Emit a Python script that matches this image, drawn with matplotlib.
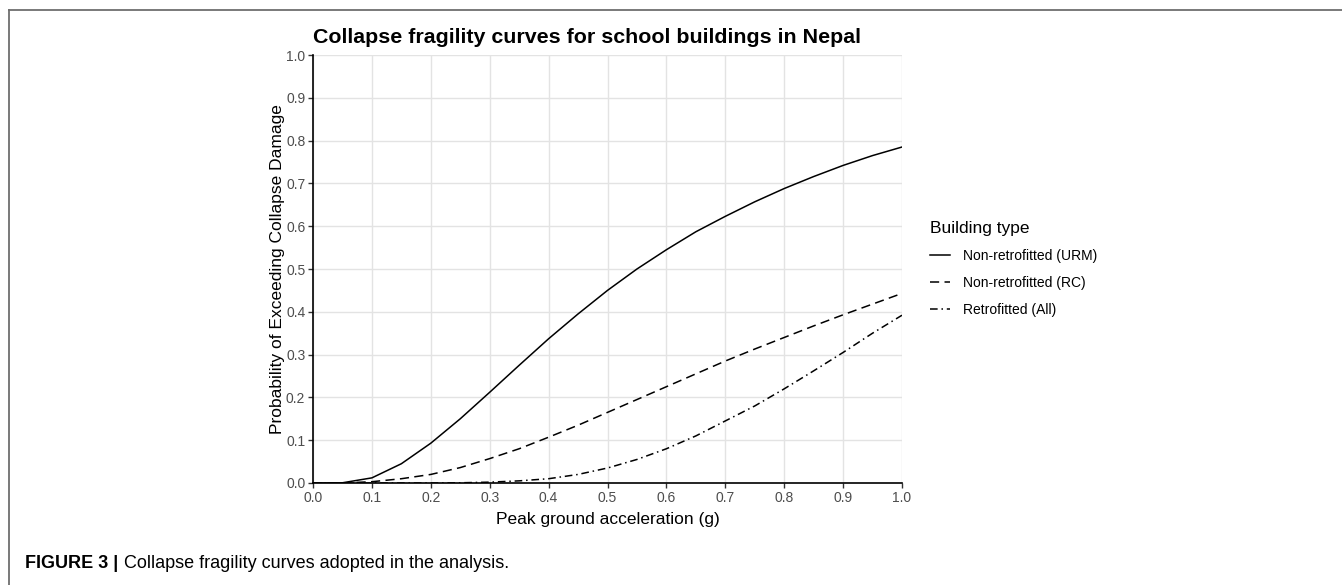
import matplotlib
matplotlib.use("Agg")
import matplotlib.pyplot as plt
from matplotlib.lines import Line2D

plt.rcParams['font.family'] = ['Liberation Sans', 'DejaVu Sans']

# values
pga = [0.0, 0.05, 0.1, 0.15, 0.2, 0.25, 0.3, 0.35, 0.4, 0.45, 0.5,
       0.55, 0.6, 0.65, 0.7, 0.75, 0.8, 0.85, 0.9, 0.95, 1.0]
p_urm = [0.0, 0.0005, 0.012, 0.045, 0.093, 0.15, 0.212, 0.275, 0.337, 0.395, 0.45,
         0.5, 0.545, 0.587, 0.623, 0.657, 0.688, 0.716, 0.742, 0.765, 0.785]
p_rc = [0.0, 0.0, 0.003, 0.01, 0.02, 0.036, 0.057, 0.08, 0.107, 0.135, 0.165,
        0.195, 0.225, 0.255, 0.285, 0.313, 0.34, 0.367, 0.393, 0.418, 0.443]
p_retro = [0.0, 0.0, 0.0, 0.0, 0.0, 0.0005, 0.002, 0.005, 0.01, 0.02, 0.035,
           0.055, 0.08, 0.11, 0.145, 0.18, 0.22, 0.262, 0.305, 0.35, 0.392]
labels = ["Non-retrofitted (URM)", "Non-retrofitted (RC)", "Retrofitted (All)"]
ticks = [0.0, 0.1, 0.2, 0.3, 0.4, 0.5, 0.6, 0.7, 0.8, 0.9, 1.0]

W, H = 1342, 585
fig = plt.figure(figsize=(W / 100, H / 100), dpi=100)
ax = fig.add_axes([313 / W, (H - 483) / H, 589 / W, 428 / H])

styles = ['-', (0, (6, 3.5)), (0, (5, 2.5, 1, 2.5))]
for ys, lab, ls in zip([p_urm, p_rc, p_retro], labels, styles):
    ax.plot(pga, ys, color='black', lw=1.1, linestyle=ls, label=lab)

ax.set_xlim(0, 1)
ax.set_ylim(0, 1)
ax.set_xticks(ticks)
ax.set_yticks(ticks)
ax.set_xticklabels([f"{t:.1f}" for t in ticks])
ax.set_yticklabels([f"{t:.1f}" for t in ticks])
ax.grid(True, color='#e3e3e3', lw=1.0)
ax.set_axisbelow(True)
for s in ['top', 'right']:
    ax.spines[s].set_visible(False)
for s in ['left', 'bottom']:
    ax.spines[s].set_linewidth(1.2)
    ax.spines[s].set_color('black')
ax.tick_params(length=3.5, width=1.0, color='#333333', labelcolor='#4d4d4d',
               labelsize=10, pad=2)

ax.set_xlabel("Peak ground acceleration (g)", fontsize=12.5, labelpad=5)
ax.set_ylabel("Probability of Exceeding Collapse Damage", fontsize=12.5, labelpad=1)
ax.set_title("Collapse fragility curves for school buildings in Nepal",
             fontsize=15.4, fontweight='bold', pad=9, loc='left')

leg = ax.legend(loc='upper left', bbox_to_anchor=(917 / W, 1 - 208 / H),
                bbox_transform=fig.transFigure, frameon=False,
                title="Building type", title_fontsize=12.5, fontsize=10,
                handlelength=1.5, handletextpad=0.9, labelspacing=0.95,
                alignment='left')

# panel frame (top and left edges)
fig.add_artist(Line2D([9 / W, 1], [1 - 10 / H, 1 - 10 / H], transform=fig.transFigure,
                      color='#6e6e6e', lw=1.3))
fig.add_artist(Line2D([9 / W, 9 / W], [0, 1 - 10 / H], transform=fig.transFigure,
                      color='#6e6e6e', lw=1.3))

cap = fig.text(25 / W, 1 - 568 / H, "FIGURE 3 |", fontsize=13, fontweight='bold',
               va='baseline')
ax.annotate("Collapse fragility curves adopted in the analysis.", xy=(1, 0),
            xycoords=cap, xytext=(4, 0), textcoords='offset points',
            fontsize=13, va='bottom')

fig.savefig("out.png", dpi=100)
